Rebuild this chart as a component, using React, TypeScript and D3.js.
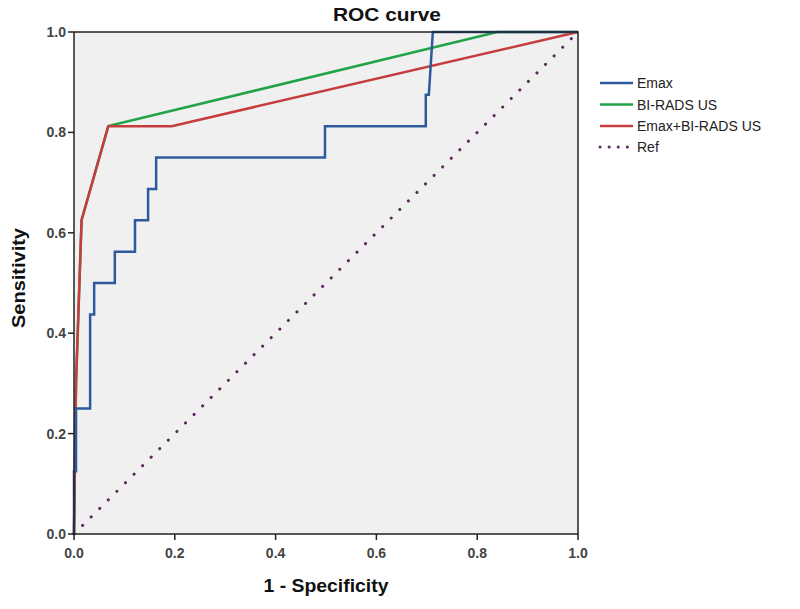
import React from "react";
import * as d3 from "d3";

const emaxX = [0, 0, 0.004, 0.004, 0.032, 0.032, 0.04, 0.04, 0.081, 0.081, 0.121, 0.121, 0.147, 0.147, 0.163, 0.163, 0.498, 0.498, 0.698, 0.698, 0.704, 0.708, 0.712, 1];
const emaxY = [0, 0.125, 0.125, 0.25, 0.25, 0.4375, 0.4375, 0.5, 0.5, 0.5625, 0.5625, 0.625, 0.625, 0.6875, 0.6875, 0.75, 0.75, 0.8125, 0.8125, 0.875, 0.875, 0.9375, 1, 1];
const biradsX = [0, 0.004, 0.015, 0.068, 0.84, 1];
const biradsY = [0, 0.3, 0.625, 0.8125, 1, 1];
const comboX = [0, 0.004, 0.015, 0.068, 0.194, 1];
const comboY = [0, 0.3, 0.625, 0.8125, 0.8125, 1];
const refX = [0, 1];
const refY = [0, 1];
const ticks = [0, 0.2, 0.4, 0.6, 0.8, 1.0];

const series = [
  { name: "Emax", xs: emaxX, ys: emaxY, color: "#2d5a9c", dash: null },
  { name: "BI-RADS US", xs: biradsX, ys: biradsY, color: "#21a348", dash: null },
  { name: "Emax+BI-RADS US", xs: comboX, ys: comboY, color: "#c73c3c", dash: null },
  { name: "Ref", xs: refX, ys: refY, color: "#5b2a5e", dash: "0.1 12" },
];
const drawOrder = [3, 1, 2, 0];

export default function App() {
  const x0 = 74, x1 = 578, y0 = 534, y1 = 32;
  const x = d3.scaleLinear().domain([0, 1]).range([x0, x1]);
  const y = d3.scaleLinear().domain([0, 1]).range([y0, y1]);
  const font = "Arial, 'Liberation Sans', sans-serif";
  const lineGen = d3.line<[number, number]>().x((d) => x(d[0])).y((d) => y(d[1]));
  const legendY = [83, 104.5, 126, 147];

  return (
    <svg width={800} height={609} style={{ position: "absolute", left: 0, top: 0, background: "#fff" }} fontFamily={font}>
      <rect x={x0} y={y1} width={x1 - x0} height={y0 - y1} fill="#f0f0f0" />
      {drawOrder.map((i) => {
        const s = series[i];
        return (
          <path
            key={s.name}
            d={lineGen(s.xs.map((v, j) => [v, s.ys[j]] as [number, number])) || ""}
            fill="none"
            stroke={s.color}
            strokeWidth={s.dash ? 3 : 2.5}
            strokeDasharray={s.dash || undefined}
            strokeLinecap={s.dash ? "round" : "butt"}
            strokeLinejoin="miter"
          />
        );
      })}
      <rect x={x0} y={y1} width={x1 - x0} height={y0 - y1} fill="none" stroke="#222" strokeWidth={1.5} />
      {ticks.map((t) => (
        <g key={"x" + t}>
          <line x1={x(t)} x2={x(t)} y1={y0} y2={y0 + 6} stroke="#222" strokeWidth={1.5} />
          <text x={x(t)} y={y0 + 24} textAnchor="middle" fontSize={14} fontWeight="bold" fill="#444">{t.toFixed(1)}</text>
        </g>
      ))}
      {ticks.map((t) => (
        <g key={"y" + t}>
          <line x1={x0 - 6} x2={x0} y1={y(t)} y2={y(t)} stroke="#222" strokeWidth={1.5} />
          <text x={x0 - 8} y={y(t) + 5} textAnchor="end" fontSize={14} fontWeight="bold" fill="#444">{t.toFixed(1)}</text>
        </g>
      ))}
      <text x={387} y={21} textAnchor="middle" fontSize={18} fontWeight="bold" fill="#111" textLength={108} lengthAdjust="spacingAndGlyphs">ROC curve</text>
      <text x={(x0 + x1) / 2} y={592} textAnchor="middle" fontSize={18} fontWeight="bold" fill="#111" textLength={125} lengthAdjust="spacingAndGlyphs">1 - Specificity</text>
      <text transform={`translate(25, 278) rotate(-90)`} textAnchor="middle" fontSize={18} fontWeight="bold" fill="#111" textLength={100} lengthAdjust="spacingAndGlyphs">Sensitivity</text>
      {series.map((s, i) => (
        <g key={"l" + s.name}>
          <line x1={600} x2={633} y1={legendY[i]} y2={legendY[i]} stroke={s.color} strokeWidth={s.dash ? 3 : 2.5} strokeDasharray={s.dash ? "0.1 9" : undefined} strokeLinecap={s.dash ? "round" : "butt"} />
          <text x={637} y={legendY[i] + 5} fontSize={14} fill="#222">{s.name}</text>
        </g>
      ))}
    </svg>
  );
}
